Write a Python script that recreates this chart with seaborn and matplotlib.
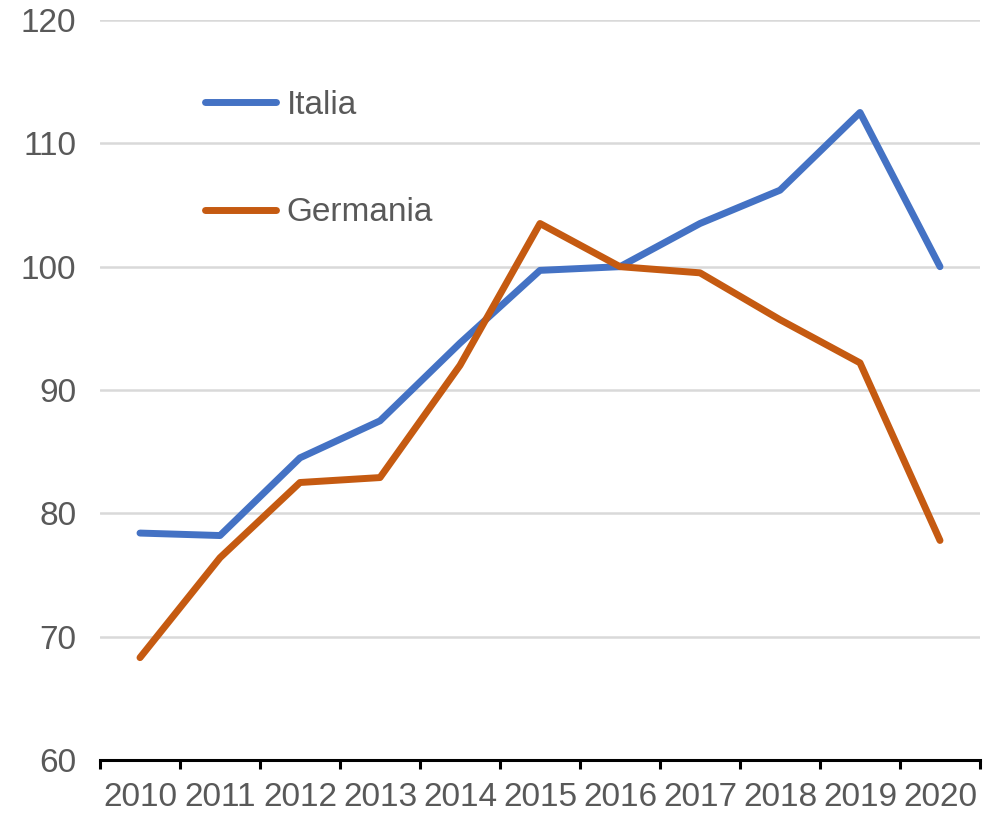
import pandas as pd
import numpy as np
import matplotlib.pyplot as plt
import seaborn as sns

# data
years = ['2010', '2011', '2012', '2013', '2014', '2015', '2016', '2017', '2018', '2019', '2020']
italia = [78.4, 78.2, 84.5, 87.5, 93.8, 99.7, 100.0, 103.5, 106.2, 112.5, 100.0]
germania = [68.3, 76.4, 82.5, 82.9, 92.0, 103.5, 100.0, 99.5, 95.7, 92.2, 77.8]
y_ticks = [60, 70, 80, 90, 100, 110, 120]

df = pd.DataFrame({
    'pos': list(range(len(years))) * 2,
    'valore': italia + germania,
    'paese': ['Italia'] * len(years) + ['Germania'] * len(years),
})

sns.set_theme(style='white')
plt.rcParams['font.family'] = ['Liberation Sans', 'DejaVu Sans']
text_col = '#595959'
fs = 24
lw = 5.0

fig = plt.figure(figsize=(9.84, 8.14), dpi=100)
ax = fig.add_axes([100 / 984, 54 / 814, 880 / 984, 740 / 814])

sns.lineplot(data=df, x='pos', y='valore', hue='paese',
             palette={'Italia': '#4472C4', 'Germania': '#C55A11'},
             linewidth=lw, ax=ax, legend=True,
             solid_capstyle='round', solid_joinstyle='round')

ax.set_xlim(-0.5, len(years) - 0.5)
ax.set_ylim(60, 120)
ax.set_yticks(y_ticks)
ax.yaxis.grid(True, color='#D9D9D9', linewidth=1.8)
ax.set_axisbelow(True)

# category axis: labels at centers, tick marks between categories
ax.set_xticks(range(len(years)))
ax.set_xticklabels(years)
ax.set_xticks(np.arange(-0.5, len(years)), minor=True)
ax.tick_params(axis='x', which='major', length=0, pad=16, labelsize=fs, labelcolor=text_col)
ax.tick_params(axis='x', which='minor', bottom=True, length=6.5, width=2.2, color='black', direction='out')
ax.tick_params(axis='y', length=0, pad=17, labelsize=fs, labelcolor=text_col)

for s in ['top', 'right', 'left']:
    ax.spines[s].set_visible(False)
ax.spines['bottom'].set_color('black')
ax.spines['bottom'].set_linewidth(2.2)

ax.set_xlabel('')
ax.set_ylabel('')

leg = ax.legend(loc='upper left', bbox_to_anchor=(0.119, 0.906), frameon=False,
                fontsize=fs, handlelength=2.15, handletextpad=0.3, labelspacing=2.3,
                borderpad=0, borderaxespad=0)
for t in leg.get_texts():
    t.set_color(text_col)
for h in leg.get_lines():
    h.set_linewidth(lw)

plt.savefig('out.png', dpi=100)
